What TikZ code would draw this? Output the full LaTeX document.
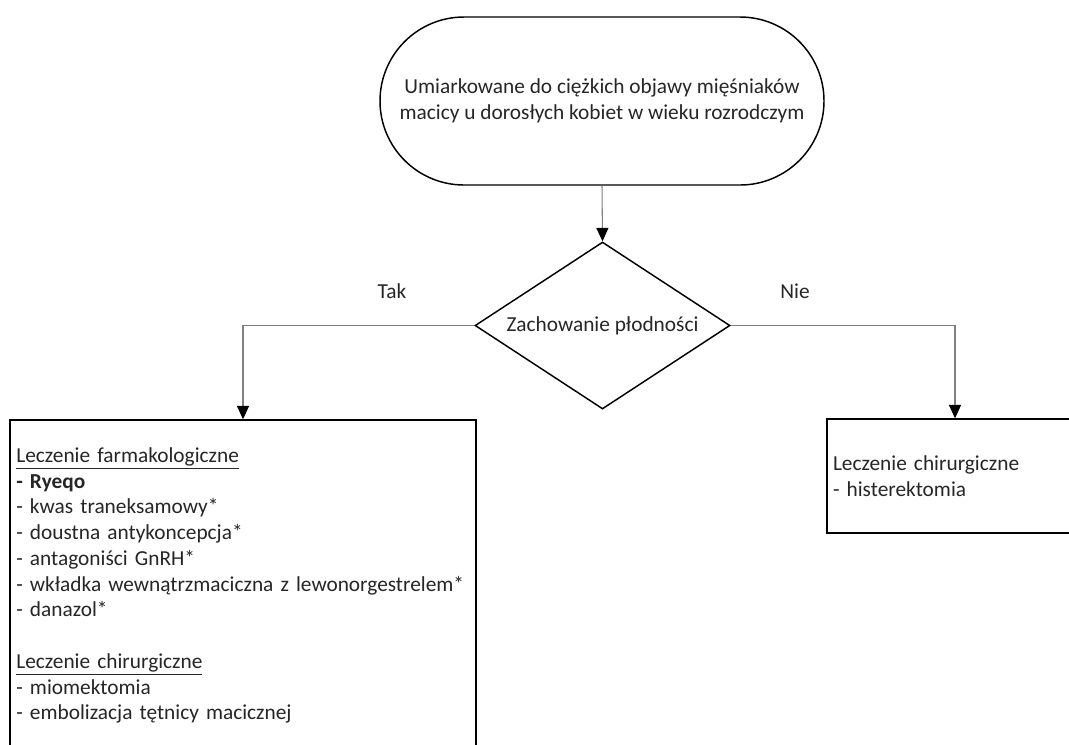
\documentclass[tikz,border=0pt]{standalone}
\usepackage{fontspec}
\setmainfont{Carlito}
\usetikzlibrary{shapes.geometric,arrows.meta}
\tikzset{
  shapebox/.style={draw=black, line width=1.1pt, text=black!85, font=\fontsize{16}{19.3}\selectfont},
  conn/.style={draw=black!50, line width=0.8pt, -{Triangle[width=9pt,length=10pt,color=black]}},
  lbl/.style={text=black!85, font=\fontsize{16}{19.3}\selectfont}
}
\begin{document}
\begin{tikzpicture}[x=0.75pt,y=-0.75pt]
\useasboundingbox (0,0) rectangle (1069,744);
\clip (0,0) rectangle (1069,744);
\fill[white] (0,0) rectangle (1069,744);
\node[shapebox, rounded corners=63pt, minimum width=333pt, minimum height=126pt, align=center] (top) at (602,101)
  {Umiarkowane do ciężkich objawy mięśniaków\\macicy u dorosłych kobiet w wieku rozrodczym};
\node[shapebox, diamond, aspect=1.53, inner sep=0pt, minimum width=191.25pt, minimum height=125.25pt] (dia) at (602.5,325.5)
  {Zachowanie płodności};
\node[shapebox, rectangle, minimum width=349.5pt, minimum height=248.25pt, text width=340pt, inner xsep=4.5pt, align=left] (lbox) at (243,585.5)
  {\underline{Leczenie farmakologiczne}\\
   \textbf{- Ryeqo}\\
   - kwas traneksamowy*\\
   - doustna antykoncepcja*\\
   - antagoniści GnRH*\\
   - wkładka wewnątrzmaciczna z lewonorgestrelem*\\
   - danazol*\\
   \mbox{}\\
   \underline{Leczenie chirurgiczne}\\
   - miomektomia\\
   - embolizacja tętnicy macicznej};
\node[shapebox, rectangle, minimum width=192pt, minimum height=85.5pt, text width=183pt, inner xsep=4.5pt, align=left] (rbox) at (955,476)
  {Leczenie chirurgiczne\\- histerektomia};
\node[lbl] (tak) at (392,291) {Tak};
\node[lbl] (nie) at (795,291) {Nie};
\draw[conn] (top.south) -- (dia.north);
\draw[conn] (dia.west) -| (lbox.north);
\draw[conn] (dia.east) -| (rbox.north);
\end{tikzpicture}
\end{document}
